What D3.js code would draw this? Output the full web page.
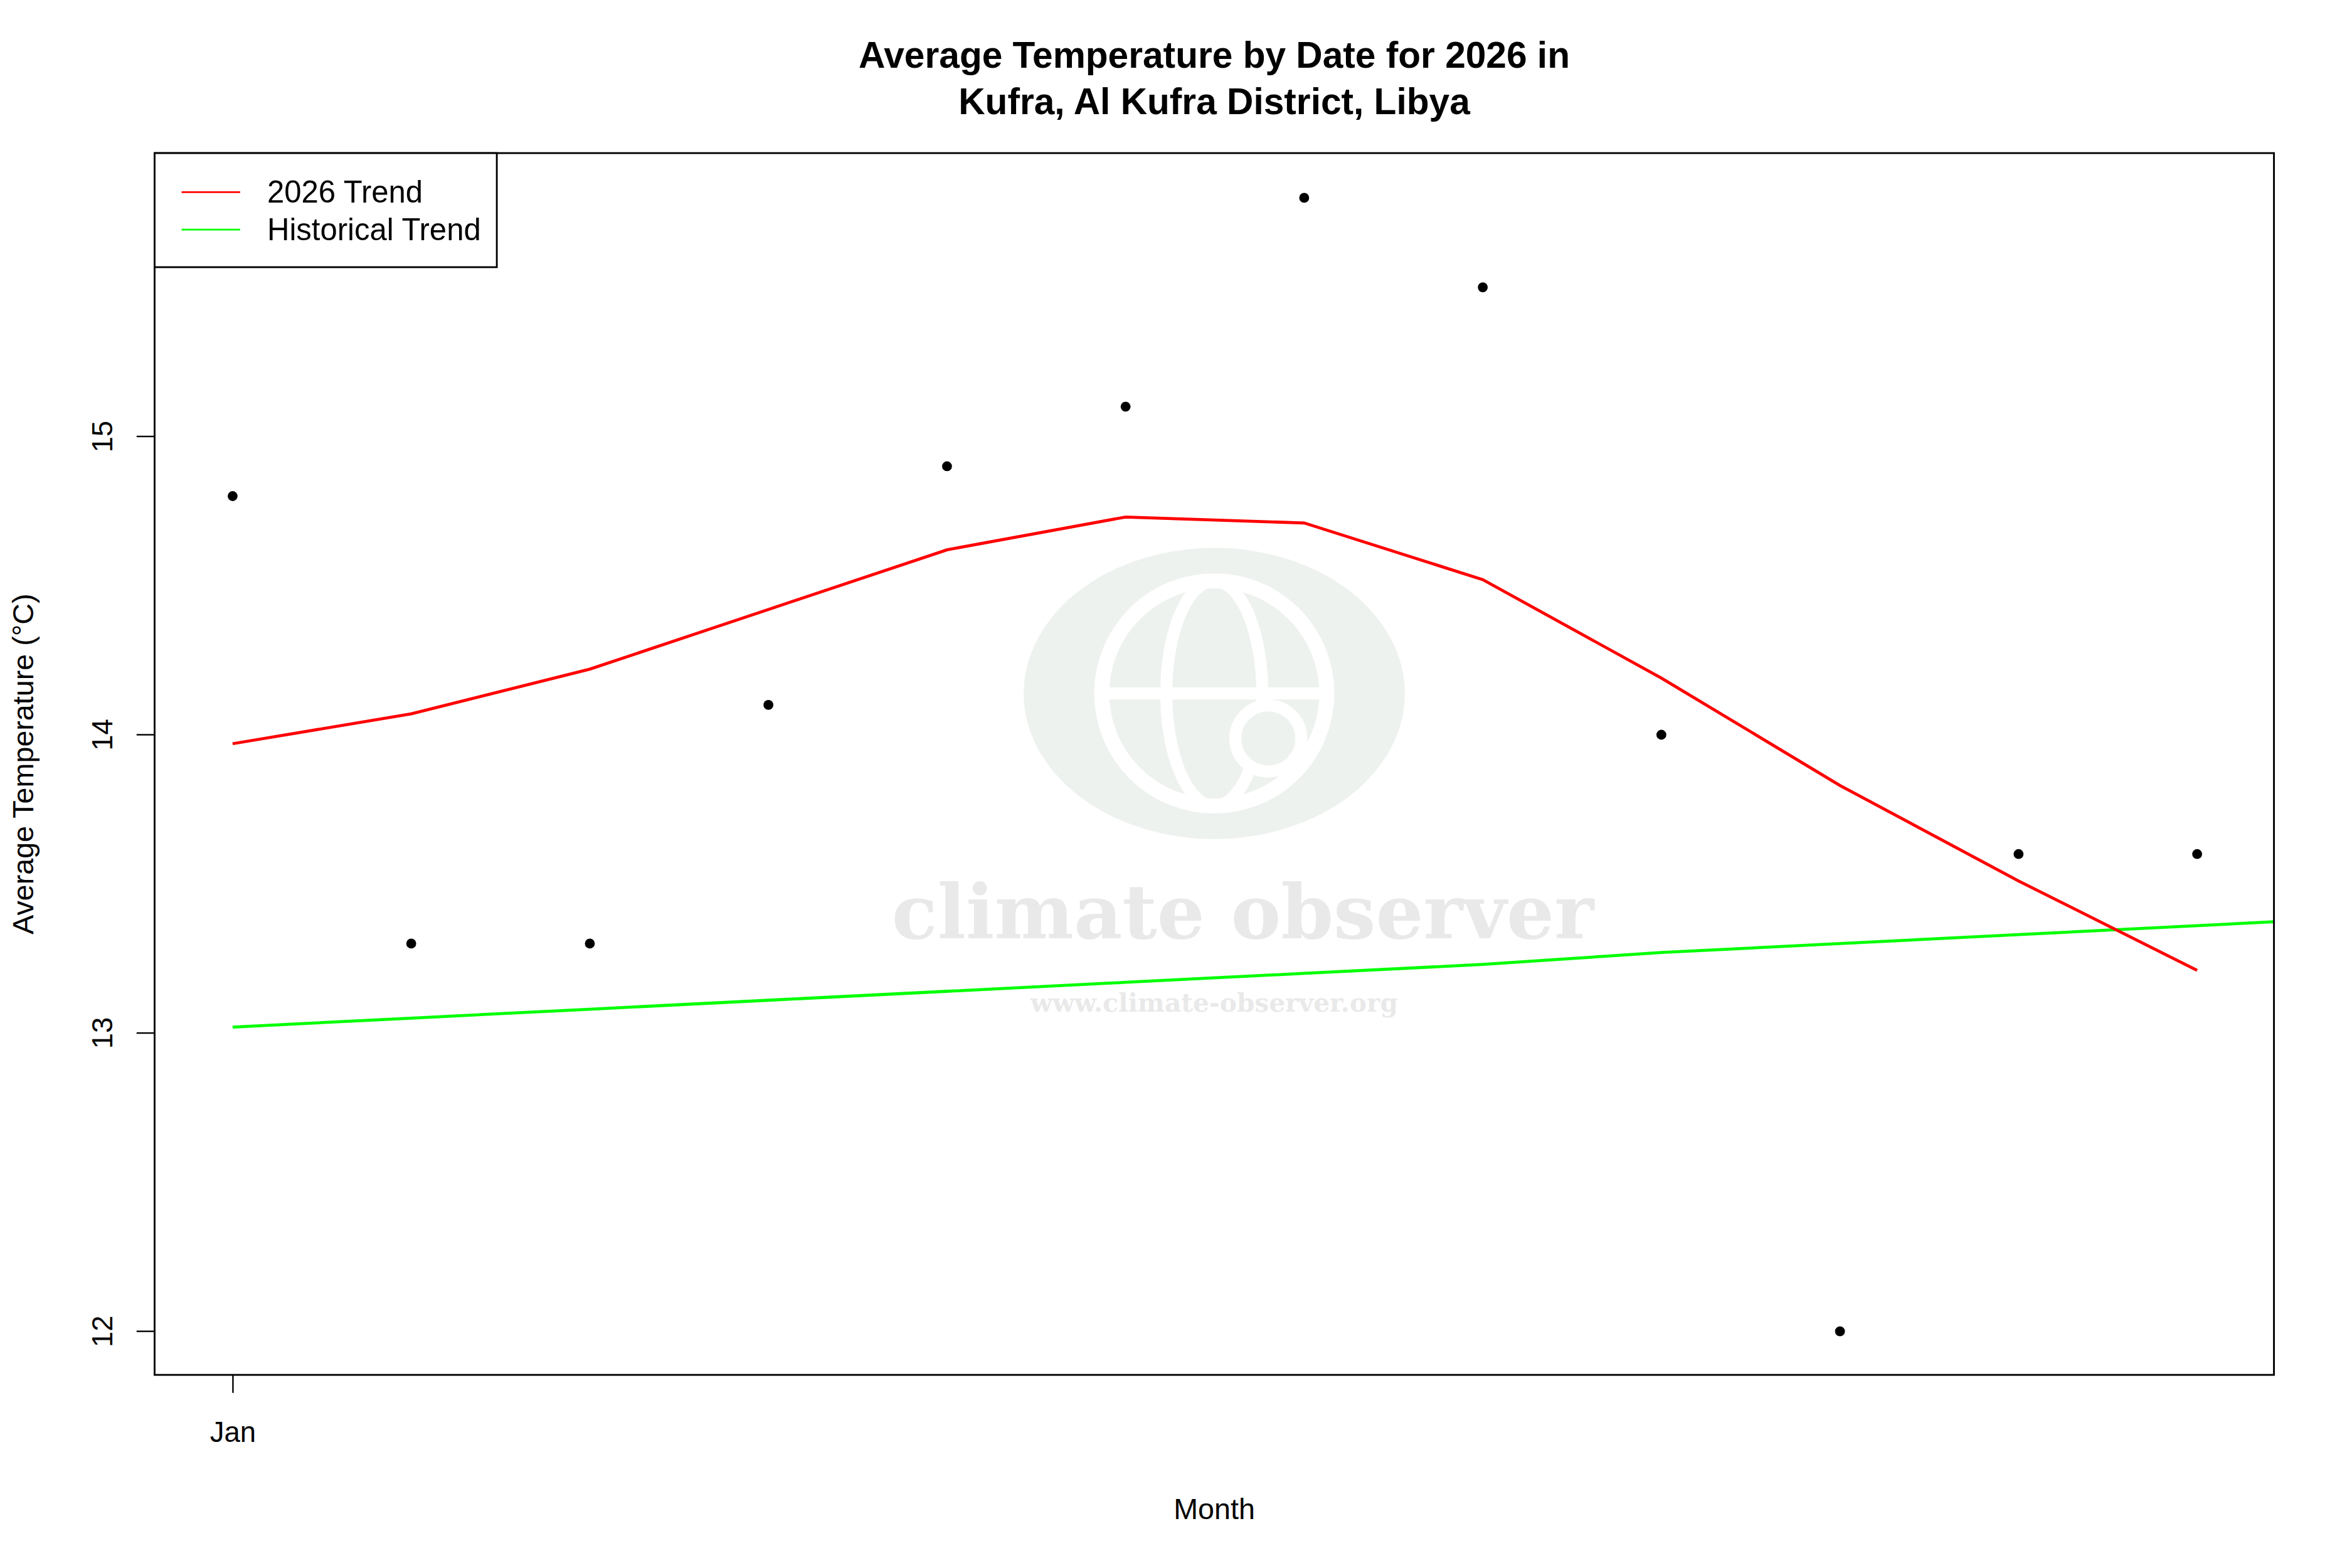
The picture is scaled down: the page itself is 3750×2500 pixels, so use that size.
<!DOCTYPE html>
<html><head><meta charset="utf-8">
<script src="https://cdn.jsdelivr.net/npm/d3@7"></script>
<style>body{margin:0;background:#fff}text{font-family:"Liberation Sans",Arial,sans-serif}text.wm{font-family:"DejaVu Serif",serif}</style>
</head><body>
<svg id="c" width="3750" height="2500"></svg>
<script>
const months = [1,2,3,4,5,6,7,8,9,10,11,12];
const observed = [14.8,13.3,13.3,14.1,14.9,15.1,15.8,15.5,14.0,12.0,13.6,13.6];
const trend2026 = [13.97,14.07,14.22,14.42,14.62,14.73,14.71,14.52,14.19,13.83,13.51,13.21];
const historical = [13.02,13.05,13.08,13.11,13.14,13.17,13.20,13.23,13.27,13.30,13.33,13.36];
const yTicks = [12,13,14,15];
const xTickLabels = ["Jan"];

const k = 3750/1567;
const L=103*k, R=1515*k, T=102*k, B=916*k;
const svg = d3.select("#c");
const x = d3.scaleLinear().domain([0.563,12.43]).range([L,R]);
const y = d3.scaleLinear().domain([11.854,15.95]).range([B,T]);

// watermark
const wm = svg.append("g").attr("opacity",0.5);
wm.append("ellipse").attr("cx",809*k).attr("cy",462*k).attr("rx",127*k).attr("ry",97*k).attr("fill","#dfe6df");
wm.append("circle").attr("cx",809*k).attr("cy",462*k).attr("r",75*k).attr("fill","none").attr("stroke","#fff").attr("stroke-width",10*k);
wm.append("ellipse").attr("cx",809*k).attr("cy",462*k).attr("rx",32*k).attr("ry",75*k).attr("fill","none").attr("stroke","#fff").attr("stroke-width",8*k);
wm.append("line").attr("x1",735*k).attr("x2",883*k).attr("y1",462*k).attr("y2",462*k).attr("stroke","#fff").attr("stroke-width",8*k);
wm.append("circle").attr("cx",845*k).attr("cy",492*k).attr("r",22*k).attr("fill","#dfe6df").attr("stroke","#fff").attr("stroke-width",8*k);
wm.append("text").attr("class","wm").attr("x",828*k).attr("y",625*k).attr("text-anchor","middle").attr("font-size",50*k).attr("font-weight","bold").attr("fill","#d4d4d4").text("climate observer");
wm.append("text").attr("class","wm").attr("x",809*k).attr("y",674*k).attr("text-anchor","middle").attr("font-size",17*k).attr("font-weight","bold").attr("fill","#d4d4d4").text("www.climate-observer.org");

svg.append("defs").append("clipPath").attr("id","clip").append("rect").attr("x",L).attr("y",T).attr("width",R-L).attr("height",B-T);

const line = d3.line().x(d=>x(d[0])).y(d=>y(d[1]));
const hs = (historical[11]-historical[0])/11;
const histPts = months.map((m,i)=>[m,historical[i]]).concat([[12.43, historical[11]+hs*0.43]]);
svg.append("path").attr("d",line(histPts)).attr("clip-path","url(#clip)").attr("fill","none").attr("stroke","#00ff00").attr("stroke-width",2*k);
svg.append("path").attr("d",line(months.map((m,i)=>[m,trend2026[i]]))).attr("fill","none").attr("stroke","#ff0000").attr("stroke-width",2*k);
svg.selectAll("circle.pt").data(months).enter().append("circle").attr("class","pt")
  .attr("cx",m=>x(m)).attr("cy",(m,i)=>y(observed[i])).attr("r",3.3*k).attr("fill","#000");

// axes
const ya = svg.append("g").attr("transform",`translate(${L},0)`).call(d3.axisLeft(y).tickValues(yTicks).tickSize(12*k).tickFormat(d3.format("d")));
ya.select(".domain").remove();
ya.selectAll("line").attr("stroke-width",1*k);
ya.selectAll("text").attr("font-size",19*k).attr("text-anchor","middle")
  .attr("x",0).each(function(d){d3.select(this).attr("transform",`translate(${-35*k},${y(d)}) rotate(-90)`).attr("y",0).attr("dy","0.35em");});
ya.selectAll(".tick").attr("transform",null).select("line").attr("y1",d=>y(d)).attr("y2",d=>y(d));

const xa = svg.append("g").attr("transform",`translate(0,${B})`).call(d3.axisBottom(x).tickValues([1]).tickSize(12*k).tickFormat((d,i)=>xTickLabels[i]));
xa.select(".domain").remove();
xa.selectAll("line").attr("stroke-width",1*k);
xa.selectAll("text").attr("font-size",19*k).attr("y",31*k);

svg.append("rect").attr("x",L).attr("y",T).attr("width",R-L).attr("height",B-T).attr("fill","none").attr("stroke","#000").attr("stroke-width",1.2*k);

// titles
svg.append("text").attr("x",809*k).attr("y",45*k).attr("text-anchor","middle").attr("font-size",24.5*k).attr("font-weight","bold").text("Average Temperature by Date for 2026 in");
svg.append("text").attr("x",809*k).attr("y",76*k).attr("text-anchor","middle").attr("font-size",24.5*k).attr("font-weight","bold").text("Kufra, Al Kufra District, Libya");
svg.append("text").attr("x",809*k).attr("y",1012*k).attr("text-anchor","middle").attr("font-size",19.5*k).text("Month");
svg.append("text").attr("transform",`translate(${22*k},${509*k}) rotate(-90)`).attr("text-anchor","middle").attr("font-size",19.5*k).text("Average Temperature (°C)");

// legend
const lg = svg.append("g");
lg.append("rect").attr("x",L).attr("y",T).attr("width",228*k).attr("height",76*k).attr("fill","#fff").attr("stroke","#000").attr("stroke-width",1.2*k);
[["2026 Trend","#ff0000"],["Historical Trend","#00ff00"]].forEach((d,i)=>{
  const yy=(128+25*i)*k;
  lg.append("line").attr("x1",121*k).attr("x2",160*k).attr("y1",yy).attr("y2",yy).attr("stroke",d[1]).attr("stroke-width",1.2*k);
  lg.append("text").attr("x",178*k).attr("y",yy).attr("dy","0.35em").attr("font-size",20.5*k).text(d[0]);
});
</script></body></html>
